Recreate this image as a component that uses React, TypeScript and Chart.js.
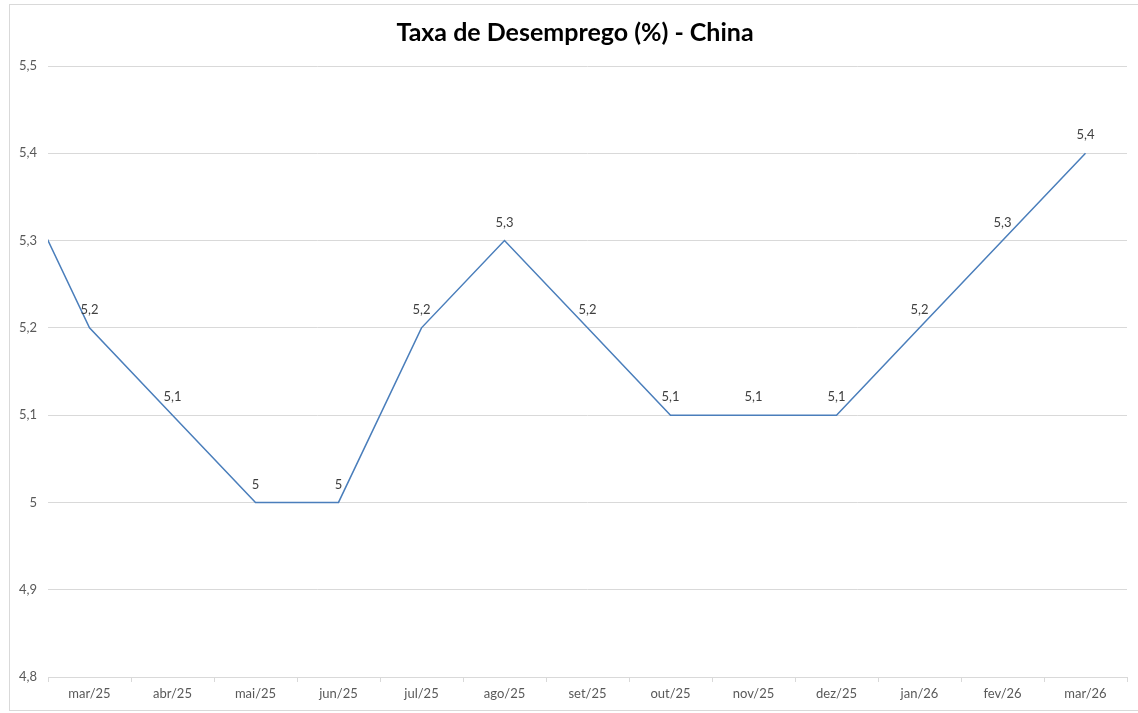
import React, { useEffect, useRef } from 'react';
import { Chart, registerables } from 'chart.js';

Chart.register(...registerables);

// Categories (first one lies just outside the visible axis range; the line enters from the left edge)
const categories = [
  'fev/25', 'mar/25', 'abr/25', 'mai/25', 'jun/25', 'jul/25', 'ago/25',
  'set/25', 'out/25', 'nov/25', 'dez/25', 'jan/26', 'fev/26', 'mar/26',
];
const firstVisibleCategory = 'mar/25';

// Unemployment rate (%)
const unemploymentValues = [5.4, 5.2, 5.1, 5.0, 5.0, 5.2, 5.3, 5.2, 5.1, 5.1, 5.1, 5.2, 5.3, 5.4];

// Y-axis ticks
const yMin = 4.8;
const yMax = 5.5;
const yStep = 0.1;

const titleText = 'Taxa de Desemprego (%) - China';

const FONT = 'Lato, "Open Sans", "Noto Sans", sans-serif';

const fmt = (v: number) => String(Number(Number(v).toFixed(1))).replace('.', ',');

const frameBorderPlugin = {
  id: 'frameBorder',
  afterDraw(chart: any) {
    const { ctx } = chart;
    ctx.save();
    ctx.strokeStyle = '#d9d9d9';
    ctx.lineWidth = 1;
    ctx.strokeRect(9.5, 4.5, 1200, 706);
    ctx.restore();
  },
};

const valueLabelPlugin = {
  id: 'valueLabels',
  afterDatasetsDraw(chart: any) {
    const { ctx, chartArea } = chart;
    const meta = chart.getDatasetMeta(0);
    ctx.save();
    ctx.font = `13px ${FONT}`;
    ctx.fillStyle = '#404040';
    ctx.textAlign = 'center';
    ctx.textBaseline = 'middle';
    meta.data.forEach((pt: any, i: number) => {
      const x = pt.x;
      const y = pt.y;
      if (!isFinite(x) || !isFinite(y)) return;
      if (x < chartArea.left - 1 || x > chartArea.right + 1) return;
      ctx.fillText(fmt(unemploymentValues[i]), x, y - 18);
    });
    ctx.restore();
  },
};

export default function App() {
  const canvasRef = useRef<HTMLCanvasElement | null>(null);

  useEffect(() => {
    if (!canvasRef.current) return;
    const chart = new Chart(canvasRef.current, {
      type: 'line',
      data: {
        labels: categories,
        datasets: [
          {
            data: unemploymentValues,
            borderColor: '#4A7EBB',
            borderWidth: 1.5,
            pointRadius: 0,
            pointHoverRadius: 0,
            tension: 0,
            fill: false,
            clip: 0,
            yAxisID: 'y',
          },
        ],
      },
      options: {
        responsive: false,
        animation: false,
        layout: { padding: { left: 12, right: 0, top: 0, bottom: 0 } },
        plugins: {
          legend: { display: false },
          tooltip: { enabled: false },
          title: {
            display: true,
            text: titleText,
            color: '#000000',
            font: { family: FONT, size: 25, weight: 'bold', lineHeight: 1 },
            padding: { top: 20.5, bottom: 20.5 },
          },
        },
        scales: {
          x: {
            type: 'category',
            min: firstVisibleCategory,
            offset: true,
            grid: {
              offset: true,
              drawOnChartArea: false,
              drawTicks: true,
              tickLength: 5,
              color: '#d9d9d9',
            },
            border: { display: true, color: '#d9d9d9' },
            ticks: {
              color: '#595959',
              font: { family: FONT, size: 13 },
              padding: 4,
              maxRotation: 0,
              autoSkip: false,
            },
            afterFit: (s: any) => {
              s.height = 36;
            },
          },
          y: {
            type: 'linear',
            position: 'left',
            min: yMin,
            max: yMax,
            ticks: {
              stepSize: yStep,
              callback: (v: any) => fmt(Number(v)),
              color: '#595959',
              font: { family: FONT, size: 13 },
              padding: 11,
            },
            grid: { color: '#d9d9d9', drawTicks: false },
            border: { display: false },
            afterFit: (s: any) => {
              s.width = 36;
            },
          },
          y2: {
            type: 'linear',
            position: 'right',
            display: true,
            grid: { display: false },
            ticks: { display: false },
            border: { display: false },
            afterFit: (s: any) => {
              s.width = 11;
            },
          },
        },
      },
      plugins: [valueLabelPlugin, frameBorderPlugin],
    } as any);
    return () => chart.destroy();
  }, []);

  return (
    <div style={{ position: 'fixed', left: 0, top: 0, width: 1138, height: 713, background: '#ffffff', overflow: 'hidden' }}>
      <canvas ref={canvasRef} width={1138} height={713} style={{ display: 'block' }} />
    </div>
  );
}
